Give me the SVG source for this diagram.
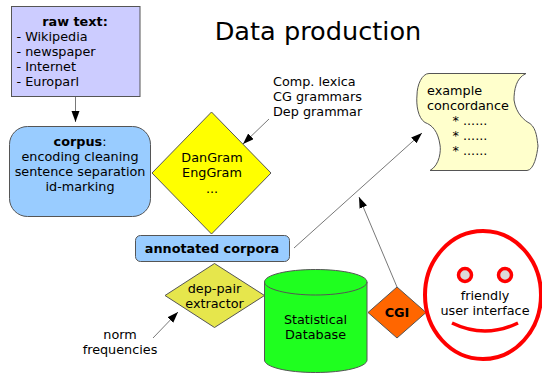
<svg xmlns="http://www.w3.org/2000/svg" width="542" height="375" viewBox="0 0 542 375">
<style>
text{font-family:"DejaVu Sans",sans-serif;font-size:12.8px;fill:#000}
.m{text-anchor:middle}
.b{font-weight:bold}
.s{stroke:#555;stroke-width:1}
.c{fill:none;stroke:#555;stroke-width:.8;marker-end:url(#a)}
</style>
<defs><marker id="a" markerUnits="userSpaceOnUse" markerWidth="12" markerHeight="10" refX="11" refY="4" orient="auto"><path d="M0 0L11 4L0 8Z" fill="#000"/></marker></defs>
<rect width="542" height="375" fill="#fff"/>
<text id="title" x="318" y="40" class="m" style="font-size:25.6px">Data production</text>
<g id="connectors">
<path class="c" d="M75.5 96.5V122"/>
<path class="c" d="M269 119L243 144"/>
<path class="c" d="M294 248L422 133"/>
<path class="c" d="M397 287L359 197"/>
<path class="c" d="M153 338L178 312"/>
</g>
<g id="raw-text">
<rect class="s" x="11.5" y="6.5" width="128.500" height="90" fill="#ccccff"/>
<text x="75" y="26" class="m b">raw text:</text>
<text x="16.500" y="41">- Wikipedia</text>
<text x="16.500" y="56">- newspaper</text>
<text x="16.500" y="71">- Internet</text>
<text x="16.500" y="86">- Europarl</text>
</g>
<g id="corpus">
<rect class="s" x="9.5" y="126.500" width="141" height="90" rx="18" fill="#99ccff"/>
<text x="80" y="146" class="m"><tspan class="b">corpus</tspan>:</text>
<text x="80" y="161" class="m">encoding cleaning</text>
<text x="80" y="176" class="m">sentence separation</text>
<text x="80" y="191" class="m">id-marking</text>
</g>
<g id="dangram">
<path class="s" d="M211.500 112L271 173L211.500 234L152 173Z" fill="#ffff00"/>
<text x="212" y="162" class="m">DanGram</text>
<text x="212" y="177" class="m">EngGram</text>
<text x="212" y="193" class="m">...</text>
</g>
<g id="resources">
<text x="273" y="86">Comp. lexica</text>
<text x="273" y="101">CG grammars</text>
<text x="273" y="116">Dep grammar</text>
</g>
<g id="concordance">
<path class="s" d="M429 73.500H526C516 78 514 90 514 100C516 114 525 121 530 123.500C537 129 537 140 538 146C537 155 534 170 527 170.500H430C440 165 441 150 440 145C438 131 432 125 425 122.500C418 118 416 105 417 95C417 85 422 73.500 429 73.500Z" fill="#ffffcc"/>
<text x="427" y="95">example</text>
<text x="427" y="110">concordance</text>
<text x="452.500" y="125">* ......</text>
<text x="452.500" y="140">* ......</text>
<text x="452.500" y="155">* ......</text>
</g>
<g id="annotated-corpora">
<rect class="s" x="135.500" y="235.500" width="154" height="26" rx="5" fill="#99ccff"/>
<text x="212" y="253" class="m b">annotated corpora</text>
</g>
<g id="dep-pair">
<path class="s" d="M214.500 263.500L264.500 295.500L214.500 327.500L165 295.500Z" fill="#e6e64c"/>
<text x="214.500" y="293" class="m">dep-pair</text>
<text x="214.500" y="308" class="m">extractor</text>
</g>
<g id="norm">
<text x="120" y="339" class="m">norm</text>
<text x="120" y="354" class="m">frequencies</text>
</g>
<g id="database">
<path class="s" d="M264.500 282C264.500 275 287 269.500 315.500 269.500S367 275 367 282V360C367 367 344 372.500 315.500 372.500S264.500 367 264.500 360Z" fill="#1fff1f"/>
<path class="s" d="M264.500 282C264.500 289 287 295 315.500 295S367 289 367 282" fill="none"/>
<text x="315.500" y="324" class="m">Statistical</text>
<text x="315.500" y="339" class="m">Database</text>
</g>
<g id="cgi">
<path class="s" d="M397 287L426 312.500L397 338L368 312.500Z" fill="#ff6600"/>
<text x="397" y="317" class="m b">CGI</text>
</g>
<g id="smiley">
<ellipse cx="483" cy="295" rx="58" ry="64" fill="#fff" stroke="#ff0000" stroke-width="4"/>
<circle cx="465" cy="275" r="6.500" fill="#dddddd" stroke="#ff0000" stroke-width="3.500"/>
<circle cx="505" cy="275" r="6.500" fill="#dddddd" stroke="#ff0000" stroke-width="3.500"/>
<path d="M452 323Q485 339 518 323" fill="none" stroke="#ff0000" stroke-width="3.500"/>
<text x="485" y="300" class="m">friendly</text>
<text x="485" y="315" class="m">user interface</text>
</g>
</svg>
